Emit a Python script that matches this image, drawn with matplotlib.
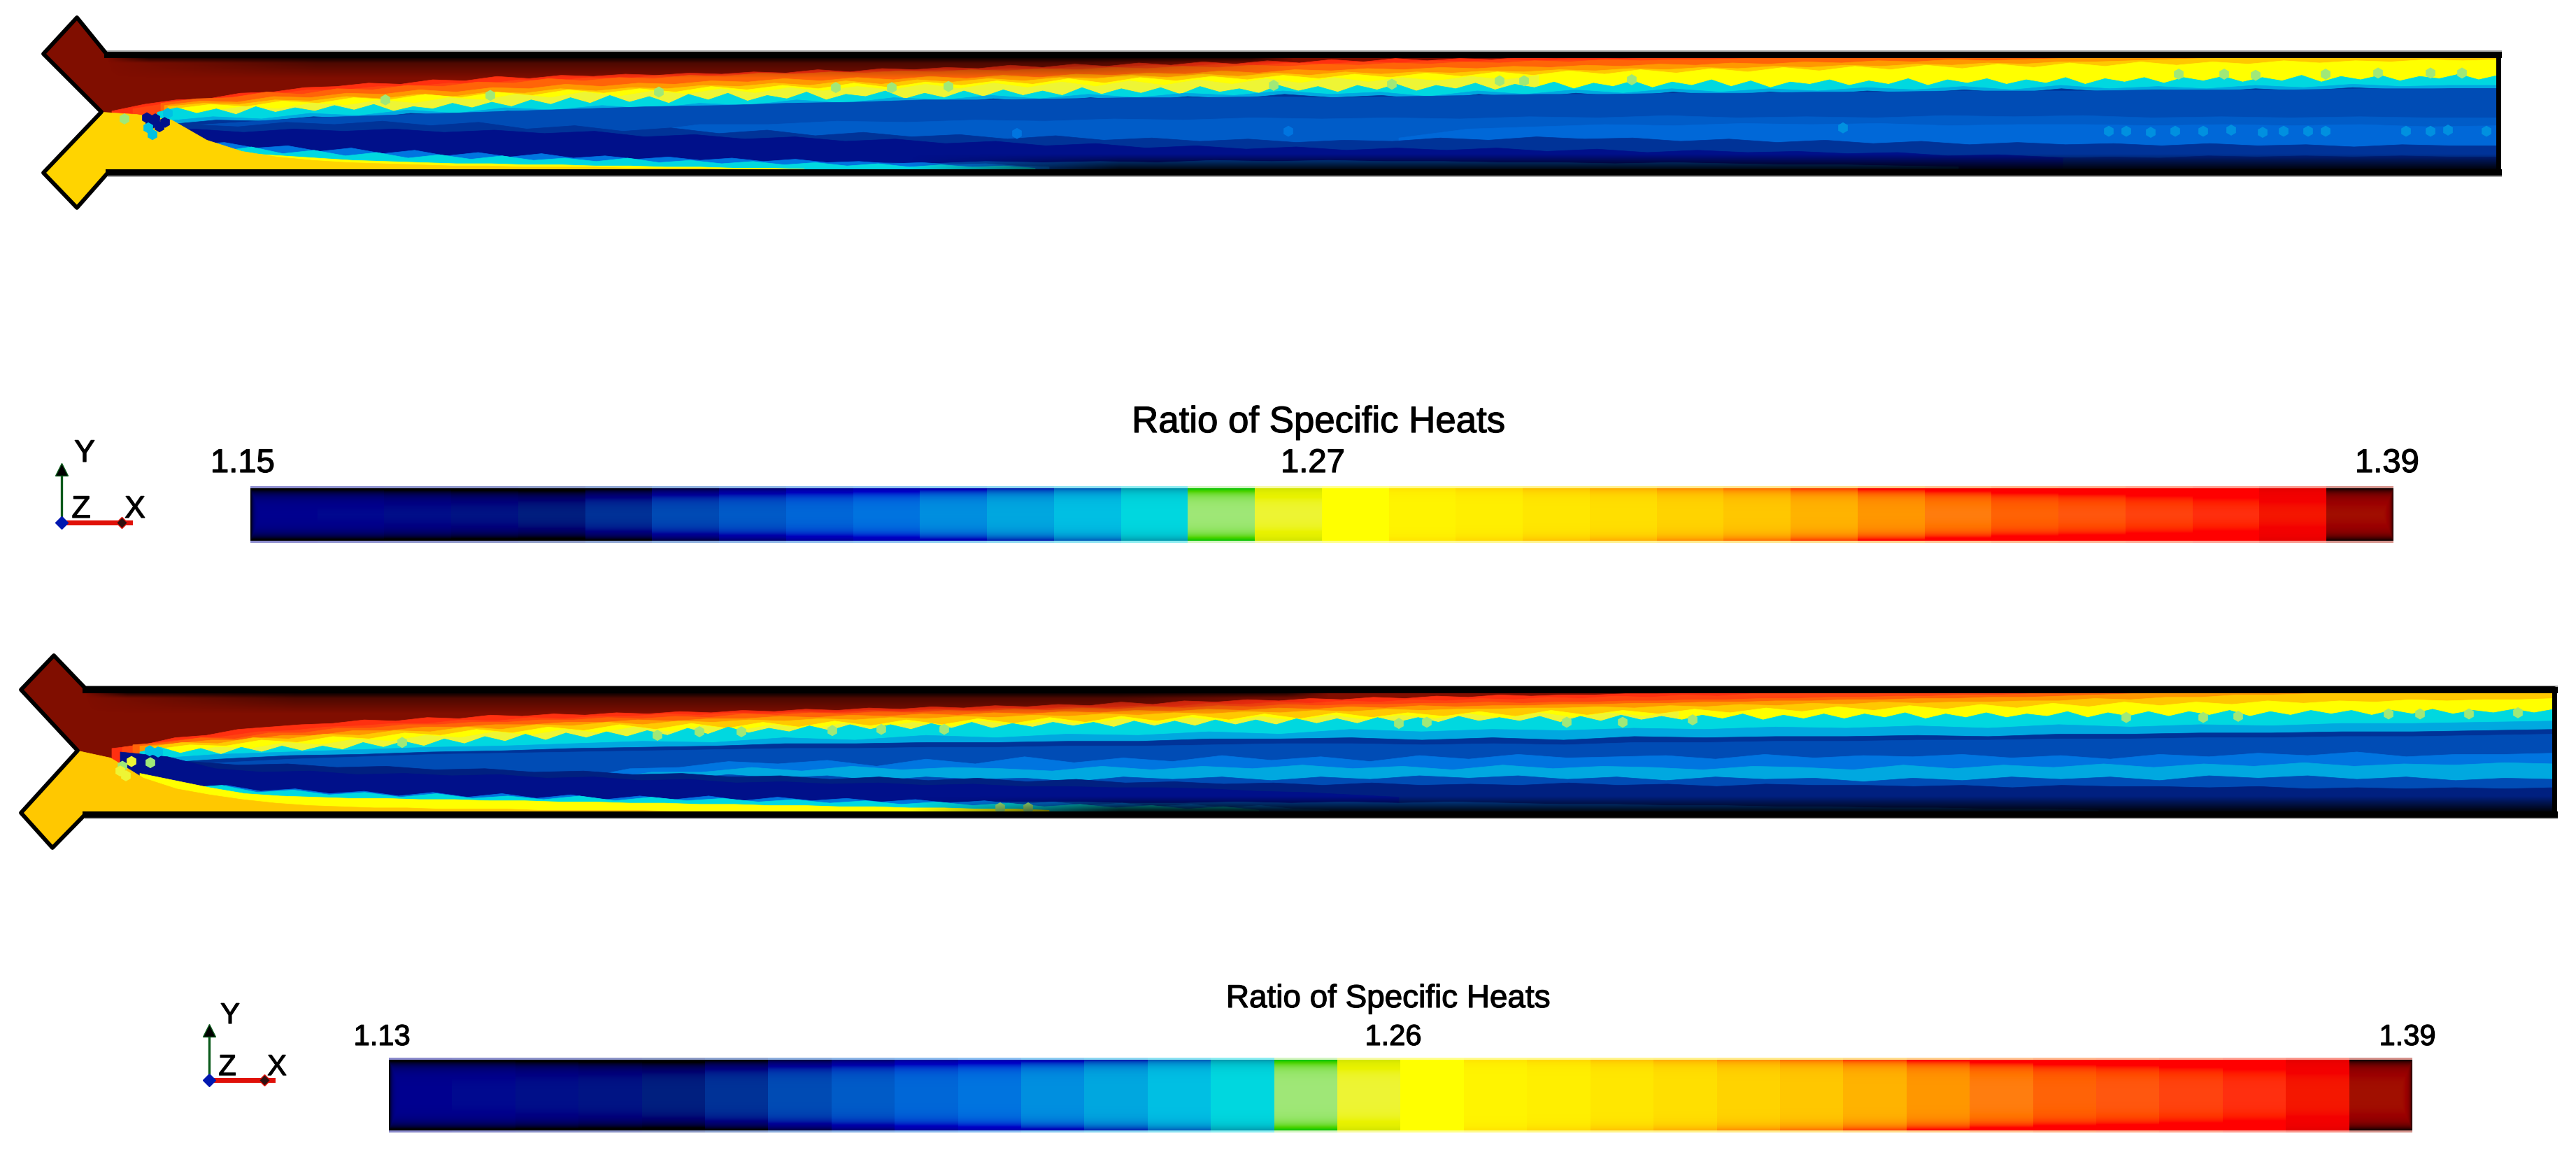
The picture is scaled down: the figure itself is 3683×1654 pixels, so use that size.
import numpy as np
import matplotlib
matplotlib.use("Agg")
import matplotlib.pyplot as plt
import matplotlib.patheffects as pe
from matplotlib.colors import ListedColormap
from matplotlib.patches import Polygon

# 32 contour levels, the last entry is the dark red of the flow itself
level_colors = ["#000090", "#000a90", "#00108a", "#001585", "#002080", "#003398", "#004cb5", "#005cc8",
                "#0068d8", "#0075e0", "#0090e0", "#00a8e0", "#00c0e4", "#00d8e0", "#a0e878", "#eef535",
                "#ffff00", "#fff500", "#fff000", "#ffe800", "#ffe000", "#ffd400", "#ffc800", "#ffb400",
                "#ff9800", "#ff7e10", "#ff6408", "#ff5810", "#ff4410", "#ff3010", "#f51800", "#a21000",
                "#800e00"]
cmap = ListedColormap(level_colors)
bar_labels_1 = ["1.15", "1.27", "1.39"]
bar_labels_2 = ["1.13", "1.26", "1.39"]
bar_title = "Ratio of Specific Heats"

# band edges in percent of channel height from the top wall, one list per edge
p1_red = [48,42,38,37,32,31,27,26,23,24,20,21,17,19,16,17,15,16,14,15,13,14,11,13,10,11,9,10,7,9,6,8,5,7,4,6,3,5,2,4,1,3,1,2,0,1,0,1,0,0,0,-1]
p1_red2 = [46,41,38,35,33,29,29,26,26,23,24,20,21,18,19,16,18,15,16,14,15,12,13,11,12,10,11,8,9,7,8,6,7,5,6,4,5,3,4,2,3,2,2,1,1,0,0,0,-1]
p1_orange = [41,37,36,31,33,28,29,25,26,22,23,19,21,18,19,16,17,14,15,13,14,12,13,11,12,10,11,9,10,8,9,7,8,6,7,5,6,4,5,3,4,2,3,2,2,1,1,0,1,0,0,0,0,-1,-1]
p1_amber = [43,39,40,35,36,32,33,29,31,27,28,24,26,23,24,21,22,19,21,18,20,17,19,16,18,15,16,14,15,12,14,11,12,10,11,9,10,8,9,7,8,6,7,5,6,4,5,3,4,2,3,2,1,0,-1]
p1_gold = [44,41,42,38,39,35,37,33,35,31,32,28,30,27,28,25,26,23,25,21,24,20,22,19,21,18,19,16,18,15,17,14,16,13,15,13,14,12,13,11,12,10,11,9,10,8,9,7,8,6,7,5,6,4,4,3,2,1,0,-1]
p1_yellow = [46,42,44,39,41,36,38,33,36,31,34,29,32,28,31,26,29,25,28,23,27,22,25,21,24,19,23,18,21,17,20,16,19,15,18,14,17,13,16,12,15,11,14,10,13,9,12,8,11,7,10,6,9,5,8,4,7,4,6,3,5,3,4,2,3,2]
p1_pale = [48,44,46,41,43,38,41,36,38,33,36,31,35,30,33,28,32,27,30,26,29,24,28,23,27,22,26,21,25,20,24,19,23,18,22,18,21,17,20,16]
p1_cyan = [49,45,50,46,51,44,49,45,48,43,47,42,48,44,46,41,45,40,44,38,42,36,41,34,40,35,41,33,38,32,
           39,34,37,31,38,33,35,30,37,32,36,30,35,29,34,30,34,27,33,28,32,27,33,26,31,28,32,25,30,26,
           31,25,29,24,30,25,28,23,29,24,27,22,28,23,26,21,27,22,25,20,26,21,27,22,24,20,25,21,24,19,
           25,20,23,19,24,20,23,18,24,19,22,18,23,18,21,17,22,18,21,16,22,17,20,16,21,17,19,15,20,16]
p1_edge = [57,53,55,50,52,47,50,45,47,43,46,41,43,38,41,36,38,34,37,33,36,32,34,30,33,31,35,30,33,29,32,28,31,28,30,27,29,26,29,25,28,26,28,25,27,24,26,25,25]
p1_edge2 = [60,56,57,53,55,50,52,48,50,46,49,44,46,41,44,39,41,37,40,36,39,35,37,33,36,34,38,33,36,32,35,31,34,31,33,30,32,29,32,28,31,29,31,28,30,27,29,28,28]
p1_blue = [62,58,54,52,50,48,46,44,43,41,40,38,38,37,36,36,35,36,35,34,33,33,32,32,31,31,30,30,30,29,29,29,28,28,28]
p1_mid = [68,60,60,57,58,56,57,55,56,54,55,54,55,53,54,52,54,53,54,52,53,52,54,53,54,53,54,54]
p1_light = [72,64,62,60,61,59,60,59,61,60,60,61,60,61,60,62,61]
p1_low = [64,60,62,58,60,57,61,58,64,61,66,63,68,65,70,67,71,69,73,70,74,72,75,73,76,74,75,72,74,71,73,72,75,73,76,74,77,75,78,76,78,77,79,77,79,78,80,78,79,79]
p1_navy = [66,64,67,64,66,64,67,65,68,66,71,69,73,71,75,73,77,75,79,77,81,79,82,80,83,81,83,81,84,82,85,83,85,84,86,85,88,87,89,91]
p1_end_dark = [90,89,90,88,89,88,89,88,89,89]
p1_bot_blue = [97,95,96,94,95,93,94,93,94,92,93,92,93,93,94,94,95,94,95,96,96,97,98]
p1_bot_mid = [74,78,76,81,79,84,81,86,83,88,85,89,86,90,88,91,89,92,90,93,91,94,93,95,94,96,95,97,98]
p1_bot_cyan = [72,78,84,80,86,83,88,85,90,87,91,88,92,90,93,90,94,92,95,93,96,94,97,95,98,96,98,97,99]
p1_bot_yellow = [66,76,82,86,88,90,92,93,94,95,95,96,96,97,97,98,98,99,99,100]
p1_bot_gold = [49,51,56,74,84,89,92,94,95,96,97,97,98,98,98,99,99,99,100,100,100]
# isolated cells: x in picture px, percent height, level
p1_spots_x = [178,551,701,942,1195,1275,1356,1821,1990,2144,2179,2333,3115,3180,3225,3325,3400,3475,3520,
              1454,1842,2635,3015,3040,3075,3110,3150,3190,3235,3265,3300,3325,3440,3475,3500,3555,
              210,222,236,215,228,212,218,240,255]
p1_spots_f = [55,38,34,31,27,27,26,25,24,21,21,20,15,15,16,15,14,14,14,
              68,66,63,66,66,67,66,66,65,67,66,66,66,66,66,65,66,
              54,55,58,60,62,63,69,50,51]
p1_spots_l = [14,14,14,14,14,14,14,14,14,14,14,14,14,14,14,14,14,14,14,
              9,9,10,10,10,10,10,10,10,10,10,10,10,10,10,10,10,
              2,2,2,2,2,12,12,12,13]

p2_red = [47,44,38,36,31,29,27,26,23,24,21,22,19,20,18,19,17,18,16,17,15,16,14,15,13,14,12,13,11,12,10,11,8,10,7,8,6,7,5,6,4,5,3,4,2,3,2,2,1,1,0,0,0,-1]
p2_red2 = [46,42,39,37,33,32,29,28,26,26,23,24,21,22,20,20,18,19,17,18,16,17,15,16,14,15,13,14,12,13,11,12,9,10,8,9,7,8,6,7,5,6,4,5,3,4,2,3,1,1,0,-1]
p2_orange = [44,42,38,39,34,34,30,30,27,27,25,25,23,23,21,22,20,21,18,19,17,18,16,17,15,16,14,15,13,14,12,13,11,12,10,11,10,10,9,9,8,9,8,8,7,7,6,6,5,5,4,4,3,3,2,2,1,1,0,-1]
p2_amber = [45,43,40,40,36,36,32,32,29,29,27,27,25,25,23,24,22,22,20,21,19,20,18,19,17,18,16,17,15,16,14,15,13,14,12,13,11,12,11,11,10,10,9,9,8,8,7,7,6,6,5,5,4,4,3,2,1,0,-1]
p2_gold = [46,42,43,38,39,35,36,32,33,29,31,27,28,25,27,24,25,23,24,22,23,21,22,20,21,19,20,18,19,17,18,16,17,15,16,14,15,14,14,13,13,12,13,11,12,10,11,9,10,8,9,8,8,7,7,5,6,4,4,2,2,1,0,-1]
p2_yellow = [48,44,45,40,42,37,39,34,36,31,34,29,32,27,31,26,30,25,29,24,28,23,27,22,26,21,25,20,24,19,23,18,22,17,21,17,20,16,20,15,19,15,18,14,17,13,16,12,15,11,14,10,13,9,12,8,11,8,10,7,9,7,8,6,7,6,6,5]
p2_pale = [50,46,47,42,44,39,41,36,38,33,36,31,34,29,33,28,32,27,31,26,30,25,29,24,28,23,27,22,26,21,25,20,24,19,23,19,22,18,22,17,21,17,20,16]
p2_cyan = [50,46,51,47,52,46,50,45,49,45,48,42,46,41,45,39,43,37,41,35,40,34,38,33,37,32,36,30,35,29,
           34,30,33,28,32,27,31,27,31,26,30,25,30,26,29,25,28,25,29,24,28,24,28,23,27,23,27,22,26,22,
           26,21,25,21,25,20,24,21,24,20,25,20,24,19,23,20,23,19,22,18,23,19,22,18,22,18,21,17,22,18,
           21,17,21,18,20,16,21,17,20,16,20,16,19,15,20,16,19,15,18,15,19,15,18,14,18,15,17,14,17,14]
p2_sky = [56,52,50,48,46,45,43,41,42,38,40,36,38,35,36,33,35,31,33,31,32,30,31,29,30,28,30,27,29,27,28,26,26,25,24]
p2_edge = [60,56,53,52,50,49,47,46,45,43,43,42,42,41,41,39,39,38,40,38,40,37,38,37,37,36,37,35,35,34,34,33,33,32,31]
p2_blue = [63,59,56,54,52,51,50,49,48,47,47,46,46,45,45,44,43,43,44,43,44,42,42,41,41,40,40,39,39,38,38,37,37,36,35]
p2_mid = [72,64,63,58,60,57,62,56,60,54,59,55,58,53,57,54,58,53,56,52,55,54,53,56,52,55,53,54,52,55,53,56,52,54,51,53,50,54,52,52,51]
p2_light = [73,67,67,63,66,62,65,63,64,66,62,65,62,64,61,64,62,65,61,64,62,63,65,62,63,65,61,64,61,63,60,63,60,62,59,62,60,61,59,60]
p2_back = [72,70,73,69,72,70,74,71,73,72,75,71,73,71,74,71,73,70,72,70,73,71,74,71,73,72,75,72,74,71,73,71,74,70,72,70,73,71,74,72,73]
p2_low = [62,58,61,60,63,62,65,64,67,66,69,68,71,70,73,71,74,72,75,73,76,75,77,76,78,76,78,77,78,76,78,77,79,77,78,78,79,78,80,78,79,79,80,79,81,80,81,80,81,80]
p2_navy = [50,54,64,67,66,69,68,70,69,72,71,74,73,76,75,77,76,78,77,79,79,80,80,81,83,84,86,88]
p2_bot_blue = [96,95,94,94,93,92,92,92,93,93,92,93,92,93,92,93,94,94,95,95,96,96,97,97,98,98,99]
p2_bot_mid = [74,80,78,83,81,85,83,87,84,88,85,89,86,90,87,90,87,91,88,91,89,92,90,93,91,94,92,95,93,96,94,97,95,98,99]
p2_bot_cyan = [72,80,78,84,82,86,84,88,85,89,87,90,87,91,88,91,89,92,90,93,91,94,92,95,93,96,94,97,95,98,96,99]
p2_bot_yellow = [68,74,80,85,87,88,89,89,90,90,91,91,92,92,93,93,94,94,95,95,96,96,97,97,98,98,99]
p2_bot_gold = [49,55,72,81,86,90,93,95,96,97,97,98,98,98,99,99,99,99,100,100,100,100]
p2_spots_x = [215,575,940,1000,1060,1190,1260,1350,2000,2040,2240,2320,2420,3040,3150,3200,3415,3460,3530,3600,1430,1470,
              175,188,214,226,172,180]
p2_spots_f = [59,42,36,33,33,32,31,31,26,25,25,25,23,21,21,20,18,18,18,17,97,97,
              62,58,49,50,66,70]
p2_spots_l = [14,14,14,14,14,14,14,14,14,14,14,14,14,14,14,14,14,14,14,14,14,14,
              14,15,12,12,15,15]

fig = plt.figure(figsize=(36.83, 16.54), dpi=100)
ax = fig.add_axes([0, 0, 1, 1])
# heavier strokes for the soft, dark lettering of the picture
heavy = [pe.withStroke(linewidth=0.9, foreground="black")]


def shade(x0, x1, y0, y1, alpha, clip, fade=300):
    # black fade along a wall, alpha goes from the y0 side to the y1 side and eases out at both ends in x
    w = int(x1 - x0)
    rgba = np.zeros((40, w, 4))
    ramp = np.minimum(np.arange(w), np.arange(w)[::-1]) / fade
    rgba[:, :, 3] = np.linspace(alpha, 0, 40)[:, None] * np.clip(ramp, 0, 1)[None, :]
    im = ax.imshow(rgba, extent=[x0, x1, y1, y0], origin="upper", aspect="auto",
                   interpolation="bilinear", zorder=3)
    im.set_clip_path(clip)


def draw_channel(outline, top, bottom, right, layers, gold, spots, dark_end):
    clip = Polygon(outline, closed=True, fc=cmap(32), ec="none", zorder=1)
    ax.add_patch(clip)
    yy = lambda v: top + (bottom - top) * np.asarray(v, dtype=float) / 100
    floor = bottom + 80
    for level, x0, x1, vals in layers:
        xs = np.linspace(x0, x1, len(vals))
        pts = [(x0, floor)] + list(zip(xs, yy(vals)))
        if vals[-1] < 0:
            # edge has left through the top wall, the band fills the rest of the channel
            pts.append((right + 20, yy(vals[-1])))
            pts.append((right + 20, floor))
        else:
            pts.append((x1, floor))
        p = Polygon(pts, closed=True, fc=cmap(level), ec=cmap(level), lw=0.5, zorder=2)
        ax.add_patch(p)
        p.set_clip_path(clip)
    # lower inlet keeps one flat colour
    level, x0, x1, vals = gold
    xs = np.linspace(x0, x1, len(vals))
    pts = [(20, floor), (20, yy(vals[0]))] + list(zip(xs, yy(vals))) + [(x1, floor)]
    p = Polygon(pts, closed=True, fc=cmap(level), ec=cmap(level), lw=0.5, zorder=2)
    ax.add_patch(p)
    p.set_clip_path(clip)
    sx, sf, sl = spots
    sc = ax.scatter(sx, yy(sf), c=[cmap(v) for v in sl], s=130, marker="h", linewidths=0, zorder=2.5)
    sc.set_clip_path(clip)

    shade(outline[1][0], dark_end, top, top + 30, 0.55, clip)
    shade(outline[1][0], dark_end, top, top + 8, 0.8, clip, fade=60)
    shade(1300, right + 300, bottom, bottom - 22, 0.9, clip, fade=300)

    # thin grey halo, then black walls
    wall_top, wall_bot = top - 4, bottom + 4
    ax.plot([outline[1][0], right + 3], [wall_top - 5, wall_top - 5], color="#a8a8a8", lw=2.2, zorder=3.5)
    ax.plot([outline[5][0], right + 3], [wall_bot + 5, wall_bot + 5], color="#a8a8a8", lw=2.2, zorder=3.5)
    ax.add_patch(Polygon(outline, closed=True, fc="none", ec="black", lw=4.2, joinstyle="round", zorder=4))
    ax.plot([outline[1][0], right], [wall_top, wall_top], color="black", lw=6.5, zorder=4)
    ax.plot([outline[5][0], right], [wall_bot, wall_bot], color="black", lw=6.5, zorder=4)
    ax.plot([right, right], [wall_top, wall_bot], color="black", lw=5, zorder=4)


def draw_bar(x0, x1, y0, y1):
    # legend bar with the dark ringing along its rims seen in the picture
    w, h = int(x1 - x0), int(y1 - y0)
    halo = 3
    idx = ((np.arange(w) + 0.5) / w * 32).astype(int)
    rgb = cmap(idx)[:, :3][None, :, :].repeat(h + 2 * halo, axis=0)
    dy = np.minimum(np.arange(h + 2 * halo), np.arange(h + 2 * halo)[::-1]) - halo
    dx = np.minimum(np.arange(w), np.arange(w)[::-1])
    k = np.maximum(1.6 * np.exp(-np.clip(dy, 0, None) / 7.0)[:, None], 1.4 * np.exp(-dx / 3.0)[None, :])
    out = np.clip(rgb - k[:, :, None] * (1 - rgb), 0, 1)
    out[dy < 0] = rgb[dy < 0] * 0.45 + 0.55
    ax.imshow(out, extent=[x0, x1, y1 + halo, y0 - halo], origin="upper", aspect="auto",
              interpolation="bilinear", zorder=2)


def draw_triad(ox, oy, ytip, xtip, ylab, zlab, xlab, size):
    ax.plot([ox, ox], [oy, ytip + 12], color="#0a5a1a", lw=2.4, zorder=3)
    ax.plot([ox], [ytip + 14], marker="^", ms=13, color="black", mec="#0a5a1a", zorder=4)
    ax.plot([ox, xtip], [oy, oy], color="#e01008", lw=5, zorder=3)
    ax.plot([xtip - 12], [oy], marker="D", ms=8, color="#301010", mec="#e01008", zorder=4)
    ax.plot([ox], [oy], marker="D", ms=9, color="#0018b0", mec="#0018b0", zorder=4)
    for s, pos in zip("YZX", [ylab, zlab, xlab]):
        ax.text(pos[0], pos[1], s, fontsize=size, ha="center", va="baseline", family="Liberation Sans", path_effects=heavy)


# upper channel
outline_1 = [(110, 25), (153, 78), (3572, 78), (3572, 246), (155, 246), (155, 246), (110, 297), (62, 247), (145, 160), (62, 77)]
layers_1 = [(29, 160, 2500, p1_red), (28, 190, 2600, p1_red2), (26, 230, 2950, p1_orange), (24, 235, 3050, p1_amber),
            (22, 240, 3250, p1_gold), (16, 250, 3572, p1_yellow), (15, 300, 2200, p1_pale), (13, 225, 3572, p1_cyan),
            (11, 235, 3572, p1_edge), (5, 240, 3572, p1_edge2), (6, 245, 3572, p1_blue), (7, 900, 3572, p1_mid),
            (8, 2000, 3572, p1_light), (5, 203, 3572, p1_low), (2, 205, 3000, p1_navy), (4, 2950, 3572, p1_end_dark),
            (6, 1000, 2800, p1_bot_blue), (9, 230, 1500, p1_bot_mid), (13, 225, 1480, p1_bot_cyan),
            (16, 205, 1150, p1_bot_yellow)]
draw_channel(outline_1, 82, 242, 3572, layers_1, (21, 145, 1150, p1_bot_gold),
             (p1_spots_x, p1_spots_f, p1_spots_l), 1850)

# lower channel
outline_2 = [(77, 937), (122, 984), (3652, 984), (3652, 1164), (122, 1164), (122, 1164), (75, 1212), (30, 1162), (111, 1073), (30, 986)]
layers_2 = [(29, 160, 2550, p2_red), (28, 175, 2650, p2_red2), (26, 190, 3050, p2_orange), (24, 200, 3150, p2_amber),
            (22, 210, 3400, p2_gold), (16, 220, 3652, p2_yellow), (15, 260, 2400, p2_pale), (13, 200, 3652, p2_cyan),
            (11, 210, 3652, p2_sky), (5, 212, 3652, p2_edge), (6, 215, 3652, p2_blue), (9, 830, 3652, p2_mid),
            (11, 860, 3652, p2_light), (6, 830, 3652, p2_back), (4, 200, 3652, p2_low), (2, 172, 2000, p2_navy),
            (6, 1000, 3000, p2_bot_blue), (9, 225, 1900, p2_bot_mid), (13, 215, 1800, p2_bot_cyan),
            (16, 200, 1500, p2_bot_yellow)]
draw_channel(outline_2, 990, 1160, 3652, layers_2, (22, 111, 1100, p2_bot_gold),
             (p2_spots_x, p2_spots_f, p2_spots_l), 1900)

# legends
draw_bar(358, 3422, 698, 773)
draw_bar(556, 3449, 1515, 1616)
for s, cx in zip(bar_labels_1, [347, 1877, 3413]):
    ax.text(cx, 675, s, fontsize=34, ha="center", va="baseline", family="Liberation Sans", path_effects=heavy)
for s, cx in zip(bar_labels_2, [546, 1992, 3442]):
    ax.text(cx, 1494, s, fontsize=30, ha="center", va="baseline", family="Liberation Sans", path_effects=heavy)
ax.text(1885, 618, bar_title, fontsize=38, ha="center", va="baseline", family="Liberation Sans", path_effects=heavy)
ax.text(1985, 1440, bar_title, fontsize=33, ha="center", va="baseline", family="Liberation Sans", path_effects=heavy)

draw_triad(88, 747, 657, 186, (121, 660), (116, 740), (193, 740), 32)
draw_triad(299, 1544, 1459, 390, (329, 1463), (325, 1537), (396, 1537), 30)

ax.set_xlim(0, 3683)
ax.set_ylim(1654, 0)
ax.axis("off")
fig.savefig("out.png", dpi=100, facecolor="white")
